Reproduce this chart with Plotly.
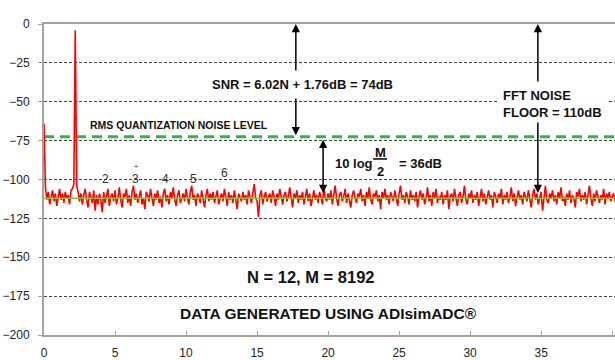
import plotly.graph_objects as go

# FFT output (dB) at each frequency bin (bin spacing 0.1)
fft_db = [
    -64, -105, -113, -108, -116, -110, -107, -114, -109, -117, -111, -106, -113, -109, -115, -108, -112, -110, -116, -107,
    -106, -103, -4, -104, -108, -114, -109, -116, -110, -106, -113, -118, -108, -111, -115, -107, -120, -110, -116, -109,
    -113, -121, -108, -115, -110, -106, -117, -111, -109, -114, -107, -116, -112, -105, -113, -118, -109, -111, -106, -115,
    -110, -117, -108, -104, -113, -109, -115, -111, -107, -116, -112, -119, -108, -110, -114, -106, -112, -117, -109, -113,
    -107, -115, -111, -118, -109, -106, -114, -110, -116, -108, -112, -105, -113, -117, -110, -107, -115, -111, -109, -114,
    -106, -112, -116, -108, -104, -113, -110, -117, -109, -111, -115, -107, -112, -118, -110, -106, -114, -109, -113, -108,
    -115, -110, -107, -116, -112, -109, -114, -106, -111, -117, -108, -113, -110, -115, -107, -112, -119, -109, -111, -114,
    -108, -113, -110, -116, -107, -111, -115, -109, -103, -112, -114, -124, -110, -107, -116, -111, -108, -114, -112, -109,
    -115, -107, -111, -117, -109, -113, -106, -112, -116, -110, -108, -114, -111, -105, -113, -118, -109, -112, -107, -115,
    -110, -113, -108, -116, -111, -106, -114, -109, -117, -112, -107, -113, -110, -115, -108, -111, -116, -105, -112, -114,
    -109, -113, -107, -116, -111, -104, -112, -117, -110, -108, -114, -111, -106, -115, -109, -113, -118, -110, -107, -112,
    -115, -109, -111, -106, -114, -110, -117, -108, -112, -105, -113, -116, -109, -111, -107, -114, -110, -119, -108, -112,
    -106, -113, -110, -116, -108, -111, -114, -107, -112, -117, -109, -104, -113, -110, -115, -108, -111, -116, -107, -113,
    -110, -114, -108, -118, -111, -107, -113, -109, -116, -112, -105, -114, -110, -117, -108, -112, -106, -115, -111, -113,
    -108, -116, -110, -113, -107, -119, -111, -109, -114, -106, -112, -117, -110, -108, -115, -111, -104, -113, -116, -109,
    -112, -107, -115, -110, -113, -108, -117, -111, -106, -114, -109, -116, -112, -107, -113, -110, -118, -108, -111, -115,
    -109, -112, -106, -116, -110, -113, -108, -115, -111, -105, -114, -109, -117, -112, -107, -113, -110, -116, -108, -111,
    -114, -107, -112, -118, -110, -106, -113, -109, -116, -111, -108, -120, -110, -104, -113, -115, -109, -112, -107, -114,
    -110, -116, -108, -112, -105, -114, -111, -117, -109, -113, -107, -115, -110, -112, -118, -108, -111, -106, -114, -110,
    -113, -108, -116, -111, -104, -112, -117, -109, -114, -107, -111, -115, -110, -113, -106, -116, -109, -112, -108, -114,
    -111, -109, -114,
]
bin_step = 0.1
freq = [round(i * bin_step, 1) for i in range(len(fft_db))]

x_span = [0, 40.2]
rms_quant_level = -72.5   # RMS quantization noise level (dB)
fft_noise_floor = -112    # average FFT noise floor (dB)

harmonic_labels = ["2", "3", "4", "5", "6"]
harmonic_x = [4.3, 6.41, 8.52, 10.56, 12.68]
harmonic_y = [-99.5, -99.5, -99.5, -99.5, -95.5]

FONT = "Liberation Sans, Arial, sans-serif"
AXIS_GREY = "#a3a29b"

fig = go.Figure()
fig.add_trace(go.Scatter(x=x_span, y=[rms_quant_level] * 2, mode="lines",
                         line=dict(color="#33b24a", width=3, dash="10px,6px"),
                         hoverinfo="skip", showlegend=False))
fig.add_trace(go.Scatter(x=freq, y=fft_db, mode="lines",
                         line=dict(color="#ff0000", width=1.6),
                         showlegend=False))
fig.add_trace(go.Scatter(x=x_span, y=[fft_noise_floor] * 2, mode="lines",
                         line=dict(color="#82c43c", width=1.5),
                         hoverinfo="skip", showlegend=False))

bold = dict(family=FONT, color="#111111")


def txt(x, y, text, size, xanchor="center", **kw):
    return dict(x=x, y=y, xref="x", yref="y", text=text, showarrow=False,
                xanchor=xanchor, yanchor="middle",
                font=dict(bold, size=size), **kw)


def arrow(x, y_head, y_tail, both=False):
    return dict(x=x, y=y_head, xref="x", yref="y", ax=x, ay=y_tail,
                axref="x", ayref="y", text="", showarrow=True,
                arrowhead=2, arrowsize=1.1, arrowwidth=1.5, arrowcolor="#000000",
                arrowside="end+start" if both else "end", standoff=0, startstandoff=0)


annotations = [
    txt(17.32, 6.4, "<b>ADC FULLSCALE</b>", 10.5),
    arrow(17.73, 0, -30.9),
    txt(18.2, -38.6, "<b>SNR = 6.02N + 1.76dB = 74dB</b>", 13),
    arrow(17.73, -71.5, -46.9),
    txt(3.1, -65, "<b>RMS QUANTIZATION NOISE LEVEL</b>", 10.5, xanchor="left"),
    arrow(19.65, -108.7, -73.5, both=True),
    txt(20.35, -89.4, "<b>10 log</b>", 13, xanchor="left"),
    txt(23.66, -82.6, "<b>M</b>", 13),
    txt(23.66, -94.8, "<b>2</b>", 13),
    txt(24.86, -89.4, "<b>= 36dB</b>", 13, xanchor="left"),
    arrow(34.77, 0, -38),
    dict(x=31.9, y=-51.4, xref="x", yref="y",
         text="<b>FFT NOISE<br>FLOOR = 110dB</b>", showarrow=False,
         xanchor="left", yanchor="middle", align="left",
         bgcolor="white", borderpad=5, font=dict(bold, size=13)),
    arrow(34.77, -108.7, -62.4),
    txt(18.8, -162.7, "<b>N = 12, M = 8192</b>", 16.5),
    txt(20.0, -185.9, "<b>DATA GENERATED USING ADIsimADC®</b>", 15.5),
]
for lab, hx, hy in zip(harmonic_labels, harmonic_x, harmonic_y):
    annotations.append(dict(x=hx, y=hy, xref="x", yref="y", text=lab, showarrow=False,
                            font=dict(family=FONT, size=12, color="#333333")))
annotations.append(dict(x=6.45, y=-91.5, xref="x", yref="y", text="+", showarrow=False,
                        font=dict(family=FONT, size=7, color="#333333")))

fig.update_layout(
    width=615, height=360,
    margin=dict(l=44, r=0, t=24, b=25),
    paper_bgcolor="white", plot_bgcolor="white",
    font=dict(family=FONT, size=12, color="#222222"),
    showlegend=False,
    annotations=annotations,
    shapes=[dict(type="line", xref="x", yref="y", x0=23.17, x1=24.15,
                 y0=-86.8, y1=-86.8, line=dict(color="#000000", width=1.5))],
    xaxis=dict(range=x_span, tickmode="array", tickvals=[0, 5, 10, 15, 20, 25, 30, 35, 40],
               showgrid=False, zeroline=False, showline=True, linecolor=AXIS_GREY,
               linewidth=2, mirror=True, ticks="inside", ticklen=4, tickcolor=AXIS_GREY,
               tickfont=dict(size=12, color="#222222"), ticklabelstandoff=6),
    yaxis=dict(range=[-200, 0], tickmode="linear", tick0=0, dtick=25,
               showgrid=True, gridcolor="#444444", griddash="3px,2px", gridwidth=1,
               zeroline=False, showline=True, linecolor=AXIS_GREY, linewidth=2,
               ticks="outside", ticklen=4, tickcolor=AXIS_GREY,
               tickfont=dict(size=12, color="#222222"), ticklabelstandoff=6),
)

fig.write_html("out.html")
